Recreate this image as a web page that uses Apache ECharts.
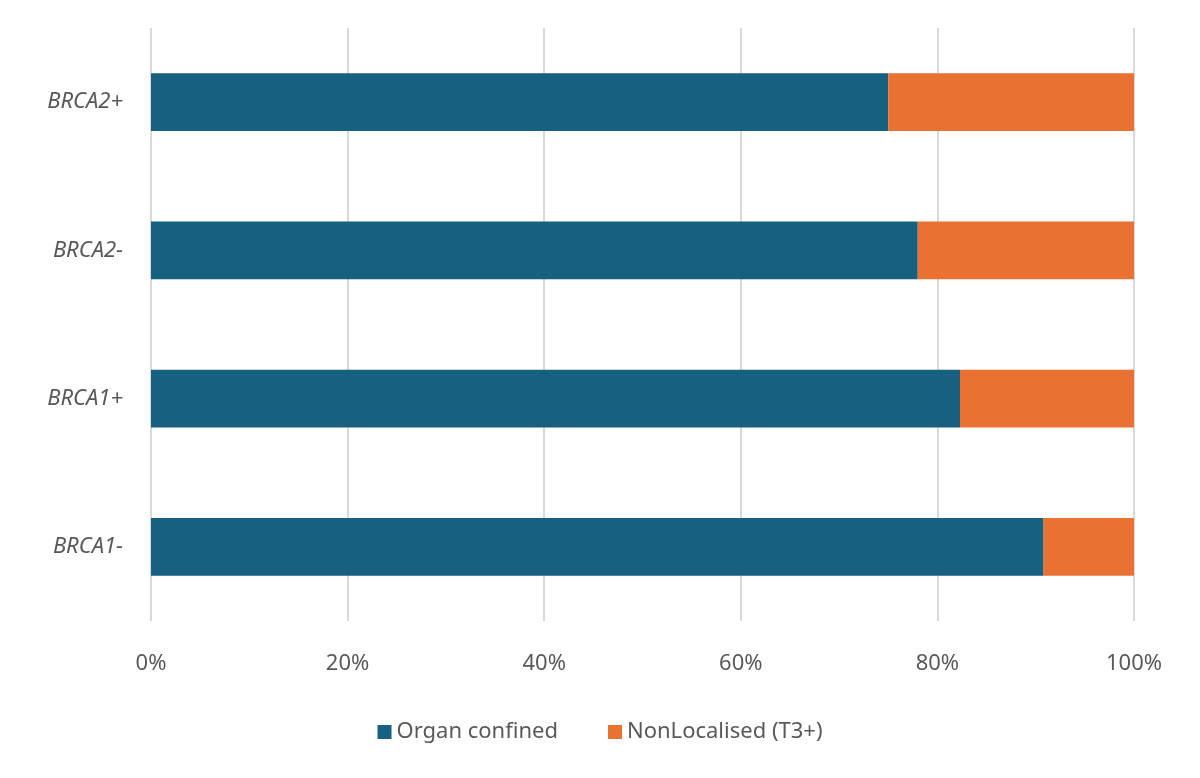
<!DOCTYPE html>
<html><head><meta charset="utf-8">
<script src="https://cdn.jsdelivr.net/npm/echarts@6/dist/echarts.min.js"></script>
<style>html,body{margin:0;background:#fff}#c{width:1200px;height:778px}</style>
</head><body><div id="c"></div>
<script>
const categories = ['BRCA1-', 'BRCA1+', 'BRCA2-', 'BRCA2+'];
const organConfined = [90.8, 82.3, 78.0, 75.0];
const nonLocalised = [9.2, 17.7, 22.0, 25.0];
const chart = echarts.init(document.getElementById('c'));
chart.setOption({
  animation: false,
  grid: { left: 151, right: 66, top: 28, bottom: 157 },
  legend: {
    bottom: 30, itemWidth: 14, itemHeight: 14, itemGap: 50, icon: 'rect',
    textStyle: { fontSize: 22, color: '#595959', fontFamily: 'Noto Sans' },
    data: ['Organ confined', 'NonLocalised (T3+)']
  },
  xAxis: {
    type: 'value', min: 0, max: 100, interval: 20,
    axisLabel: { formatter: '{value}%', fontSize: 22, color: '#595959', margin: 32, fontFamily: 'Noto Sans' },
    splitLine: { lineStyle: { color: '#d9d9d9', width: 2 } },
    axisLine: { show: false }, axisTick: { show: false }
  },
  yAxis: {
    type: 'category', data: categories,
    axisLabel: { fontSize: 22, color: '#595959', fontStyle: 'italic', margin: 28, fontFamily: 'Noto Sans' },
    axisLine: { show: false }, axisTick: { show: false }
  },
  series: [
    { name: 'Organ confined', type: 'bar', stack: 's', data: organConfined, barWidth: '39%', itemStyle: { color: '#17607f' } },
    { name: 'NonLocalised (T3+)', type: 'bar', stack: 's', data: nonLocalised, itemStyle: { color: '#e97132' } }
  ]
});
</script></body></html>
